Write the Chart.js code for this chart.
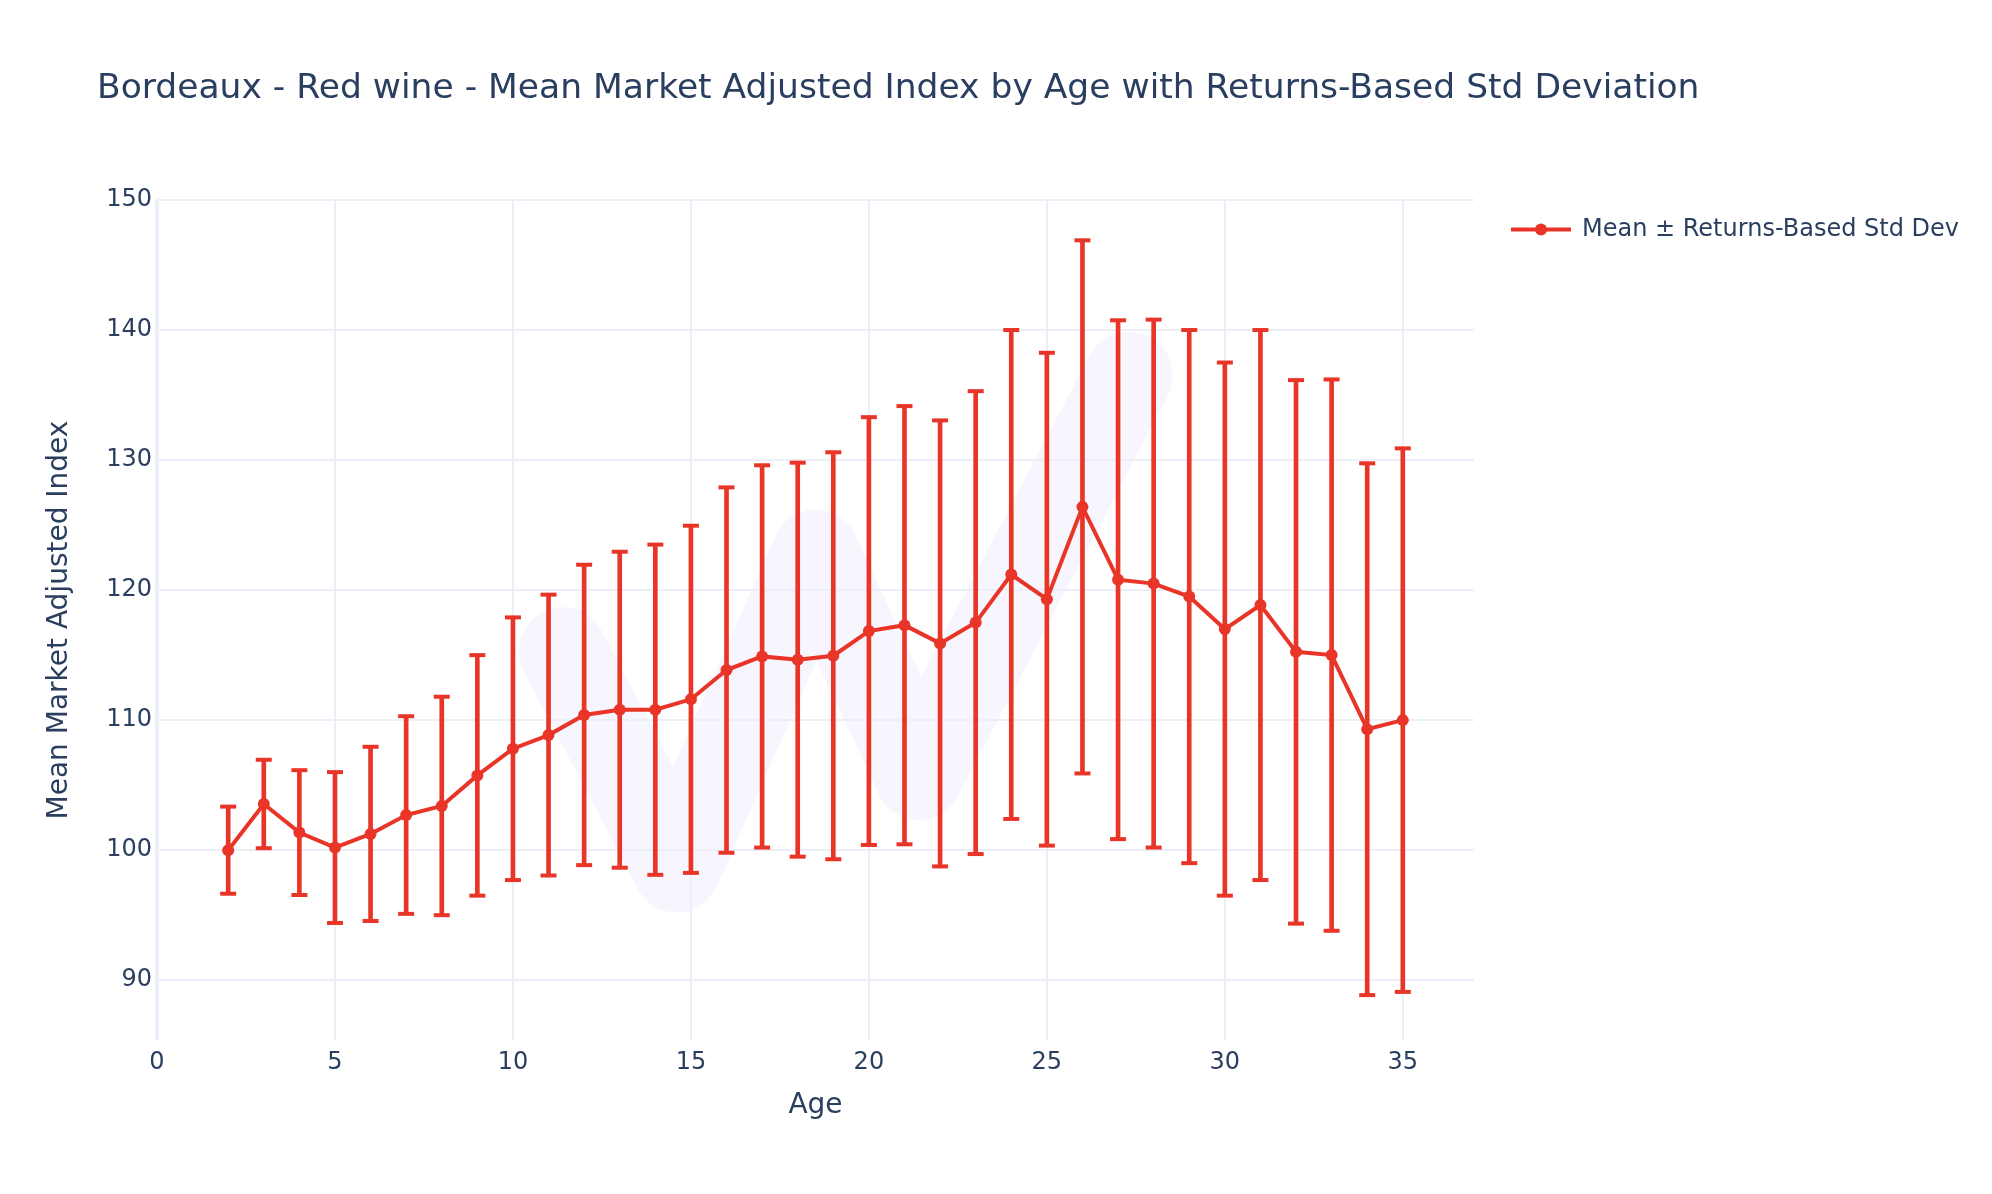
<!DOCTYPE html>
<html>
<head>
<meta charset="utf-8">
<script src="https://cdn.jsdelivr.net/npm/chart.js@4"></script>
<style>
  html, body { margin: 0; padding: 0; background: #ffffff; }
  canvas { display: block; }
</style>
</head>
<body>
<canvas id="c" width="1992" height="1194" style="width:1992px;height:1194px"></canvas>
<script>
// ---- Data ----
const ages = [2,3,4,5,6,7,8,9,10,11,12,13,14,15,16,17,18,19,20,21,22,23,24,25,26,27,28,29,30,31,32,33,34,35];
const meanIndex = [100.0,103.55,101.35,100.2,101.25,102.7,103.4,105.75,107.8,108.85,110.4,110.8,110.8,111.6,113.85,114.9,114.65,114.95,116.85,117.3,115.9,117.5,121.2,119.3,126.4,120.8,120.5,119.5,117.0,118.85,115.25,115.0,109.3,110.0];
const stdDev = [3.35,3.4,4.8,5.8,6.7,7.6,8.4,9.25,10.1,10.8,11.55,12.15,12.7,13.35,14.05,14.7,15.15,15.65,16.45,16.85,17.15,17.8,18.8,18.95,20.5,19.95,20.3,20.5,20.5,21.15,20.9,21.2,20.45,20.9];
const xTicks = [0,5,10,15,20,25,30,35];
const yTicks = [90,100,110,120,130,140,150];

const titleText = 'Bordeaux - Red wine - Mean Market Adjusted Index by Age with Returns-Based Std Deviation';
const seriesName = 'Mean \u00b1 Returns-Based Std Dev';

// decorative watermark path (background logo), in data units
const watermarkAges = [11.4, 14.6, 18.5, 21.4, 27.3];
const watermarkVals = [115.3, 98.6, 122.8, 105.7, 136.5];

const RED = 'rgb(233,53,40)';
const TEXT = '#2a3f5f';
const GRID = '#EBF0F8';
const FONT = '"DejaVu Sans", Verdana, sans-serif';

const linePts = ages.map((a, i) => ({x: a, y: meanIndex[i]}));
const barPts = ages.map((a, i) => ({x: a, y: [meanIndex[i] - stdDev[i], meanIndex[i] + stdDev[i]]}));
const capPts = [];
ages.forEach((a, i) => {
  capPts.push({x: a, y: meanIndex[i] + stdDev[i]});
  capPts.push({x: a, y: meanIndex[i] - stdDev[i]});
});

const decorPlugin = {
  id: 'decor',
  beforeDraw(chart) {
    const {ctx, scales: {x, y}} = chart;
    ctx.save();
    ctx.beginPath();
    watermarkAges.forEach((a, i) => {
      const px = x.getPixelForValue(a), py = y.getPixelForValue(watermarkVals[i]);
      if (i === 0) ctx.moveTo(px, py); else ctx.lineTo(px, py);
    });
    ctx.strokeStyle = '#F7F6FE';
    ctx.lineWidth = 88;
    ctx.lineCap = 'round';
    ctx.lineJoin = 'round';
    ctx.stroke();
    ctx.restore();
  },
  afterDraw(chart) {
    const {ctx} = chart;
    ctx.save();
    // title
    ctx.fillStyle = TEXT;
    ctx.font = '34.5px ' + FONT;
    ctx.textAlign = 'left';
    ctx.textBaseline = 'alphabetic';
    ctx.fillText(titleText, 97, 98);
    // legend
    const ly = 229.6;
    ctx.strokeStyle = RED;
    ctx.lineWidth = 4;
    ctx.beginPath();
    ctx.moveTo(1511, ly);
    ctx.lineTo(1571, ly);
    ctx.stroke();
    ctx.fillStyle = RED;
    ctx.beginPath();
    ctx.arc(1541, ly, 6, 0, Math.PI * 2);
    ctx.fill();
    ctx.fillStyle = TEXT;
    ctx.font = '24px ' + FONT;
    ctx.textBaseline = 'middle';
    ctx.fillText(seriesName, 1582, ly);
    ctx.restore();
  }
};

new Chart(document.getElementById('c'), {
  type: 'line',
  data: {
    datasets: [
      {
        type: 'line',
        label: seriesName,
        data: linePts,
        borderColor: RED,
        backgroundColor: RED,
        borderWidth: 4,
        pointRadius: 6,
        pointBorderWidth: 0,
        pointBackgroundColor: RED,
        tension: 0,
        order: 0
      },
      {
        type: 'bar',
        label: 'error',
        data: barPts,
        backgroundColor: RED,
        borderWidth: 0,
        barThickness: 4,
        order: 2
      },
      {
        type: 'line',
        label: 'caps',
        data: capPts,
        showLine: false,
        pointStyle: 'line',
        pointRadius: 8,
        pointBorderWidth: 4,
        pointBorderColor: RED,
        borderColor: RED,
        order: 1
      }
    ]
  },
  options: {
    responsive: false,
    devicePixelRatio: 1,
    animation: false,
    events: [],
    layout: { padding: { top: 200, right: 518, bottom: 0, left: 0 } },
    plugins: { legend: { display: false }, title: { display: false }, tooltip: { enabled: false } },
    scales: {
      x: {
        type: 'linear',
        min: 0,
        max: 37,
        offset: false,
        afterFit(s) { s.height = 154; },
        afterBuildTicks(s) { s.ticks = xTicks.map(v => ({value: v})); },
        ticks: { includeBounds: false, color: TEXT, font: { family: FONT, size: 24 }, padding: 8, maxRotation: 0 },
        grid: {
          offset: false,
          color: GRID,
          lineWidth: ctx => (ctx.tick && ctx.tick.value === 0 ? 4 : 2),
          drawTicks: false
        },
        border: { display: false },
        title: { display: true, text: 'Age', color: TEXT, font: { family: FONT, size: 28 }, padding: { top: 0, bottom: 71 } }
      },
      y: {
        type: 'linear',
        min: 85.4,
        max: 150,
        afterFit(s) { s.width = 157; },
        afterBuildTicks(s) { s.ticks = yTicks.map(v => ({value: v})); },
        ticks: { includeBounds: false, color: TEXT, font: { family: FONT, size: 24 }, padding: 5 },
        grid: { color: GRID, lineWidth: 2, drawTicks: false },
        border: { display: false },
        title: { display: true, text: 'Mean Market Adjusted Index', color: TEXT, font: { family: FONT, size: 28 }, padding: { top: 43, bottom: 0 } }
      }
    }
  },
  plugins: [decorPlugin]
});
</script>
</body>
</html>
